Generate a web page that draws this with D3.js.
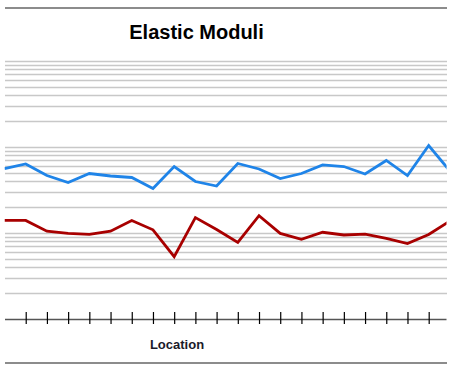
<!DOCTYPE html>
<html>
<head>
<meta charset="utf-8">
<script src="https://cdn.jsdelivr.net/npm/d3@7"></script>
<style>
  html, body { margin: 0; padding: 0; background: #fff; }
  svg { display: block; }
</style>
</head>
<body>
<svg id="chart" width="456" height="372"></svg>
<script>
// ---- data ----
const locations = d3.range(0, 22); // location index
const seriesBlue = [56.2, 63.5, 46.6, 38.7, 49.2, 46.0, 44.2, 32.9, 59.3, 39.7, 35.2,
                    64.3, 55.5, 43.0, 49.2, 61.8, 59.3, 48.5, 69.7, 46.6, 104, 52.6];
const seriesRed  = [14.0, 14.0, 10.5, 9.9, 9.66, 10.5, 14.0, 10.9, 5.3, 15.1, 11.0,
                    7.76, 15.9, 9.9, 8.45, 10.2, 9.48, 9.68, 8.68, 7.53, 9.6, 13.8];
const tickIdx = d3.range(1, 21);
const yDomain = [1, 1000];
const titleText = "Elastic Moduli";
const xLabelText = "Location";

// ---- layout ----
const svg = d3.select("#chart");
const left = 4.5, right = 446.5;
const x = d3.scaleLinear().domain([0, 21]).range([4.5, 449.9]);
const y = d3.scaleLog().domain(yDomain).range([319, 61]);

// frame lines
svg.append("line").attr("x1", 5).attr("x2", 447).attr("y1", 8).attr("y2", 8)
  .attr("stroke", "#666").attr("stroke-width", 1.5);
svg.append("line").attr("x1", 5).attr("x2", 447).attr("y1", 363).attr("y2", 363)
  .attr("stroke", "#666").attr("stroke-width", 1.5);

// title
svg.append("text").attr("x", 196.5).attr("y", 38.5).attr("text-anchor", "middle")
  .attr("font-family", "Liberation Sans, Arial, sans-serif").attr("font-weight", "bold")
  .attr("font-size", 20).attr("fill", "#000").text(titleText);

// gridlines (log)
const gridVals = [];
for (let d = 0; d < 3; d++) for (let k = 1; k <= 9; k++) gridVals.push(k * Math.pow(10, d));
gridVals.push(1000);
svg.append("g").selectAll("line").data(gridVals.filter(v => v > 1)).join("line")
  .attr("x1", 5).attr("x2", 447)
  .attr("y1", d => Math.round(y(d)) + 0.5).attr("y2", d => Math.round(y(d)) + 0.5)
  .attr("stroke", "#c8c8c8").attr("stroke-width", 1.3);

// x axis
const axisG = svg.append("g").attr("transform", "translate(0,319)");
axisG.append("line").attr("x1", 5).attr("x2", 446.5).attr("y1", 0.5).attr("y2", 0.5)
  .attr("stroke", "#555").attr("stroke-width", 1.5);
const xAxis = d3.axisBottom(x).tickValues(tickIdx).tickSize(0).tickFormat("");
const ag = axisG.append("g").call(xAxis);
ag.select(".domain").remove();
ag.selectAll(".tick").append("line").attr("y1", -7).attr("y2", 5)
  .attr("stroke", "#000").attr("stroke-width", 1.2);

// x label
svg.append("text").attr("x", 177).attr("y", 349).attr("text-anchor", "middle")
  .attr("font-family", "Liberation Sans, Arial, sans-serif").attr("font-weight", "bold")
  .attr("font-size", 13).attr("fill", "#1a1a2a").text(xLabelText);

// clip
svg.append("clipPath").attr("id", "plotclip").append("rect")
  .attr("x", left).attr("y", 0).attr("width", right - left).attr("height", 372);

const line = d3.line().x((d, i) => x(locations[i])).y(d => y(d));
const lg = svg.append("g").attr("clip-path", "url(#plotclip)");
lg.append("path").datum(seriesBlue).attr("d", line).attr("fill", "none")
  .attr("stroke", "#1f84e8").attr("stroke-width", 2.8).attr("stroke-linejoin", "miter");
lg.append("path").datum(seriesRed).attr("d", line).attr("fill", "none")
  .attr("stroke", "#a80000").attr("stroke-width", 2.8).attr("stroke-linejoin", "miter");
</script>
</body>
</html>
